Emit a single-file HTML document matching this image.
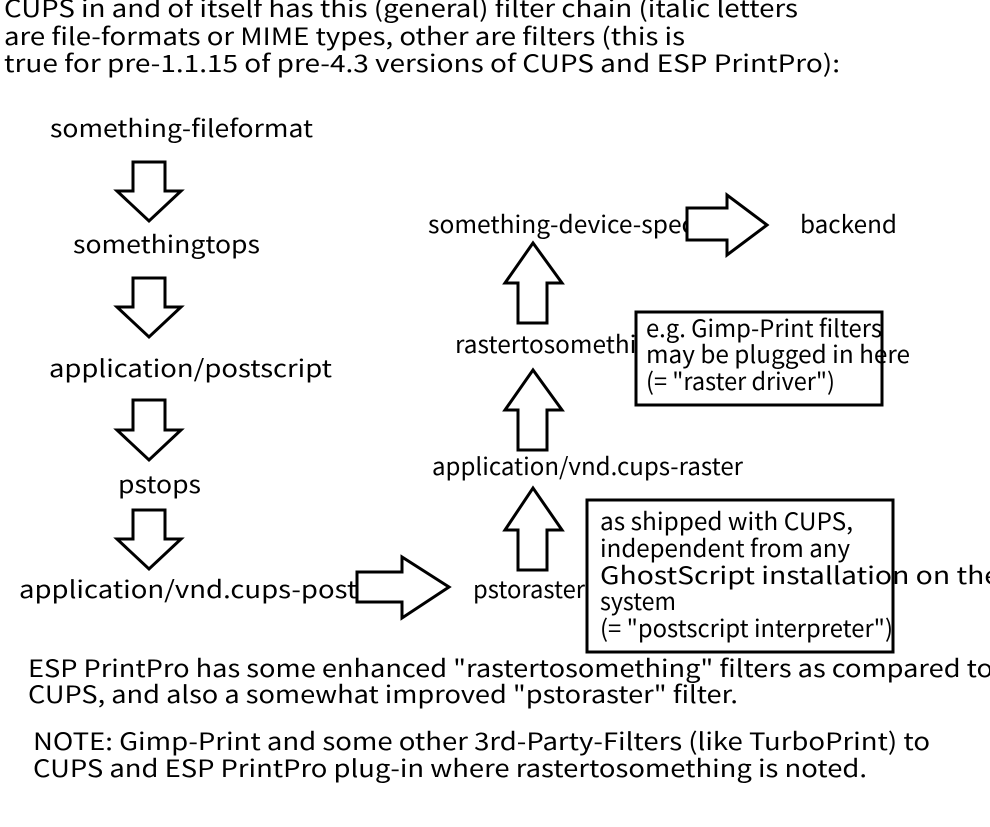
<!DOCTYPE html>
<html><head><meta charset="utf-8"><style>
html,body{margin:0;padding:0;background:#fff;}
svg{display:block;}
text{font-family:"Noto Sans CJK JP","Liberation Sans",sans-serif;font-size:24px;fill:#000;}
</style></head><body>
<svg width="990" height="827" viewBox="0 0 990 827" xmlns="http://www.w3.org/2000/svg">
<text x="4" y="17" textLength="794" lengthAdjust="spacingAndGlyphs">CUPS in and of itself has this (general) filter chain (italic letters</text>
<text x="4" y="45" textLength="681" lengthAdjust="spacingAndGlyphs">are file-formats or MIME types, other are filters (this is</text>
<text x="4" y="72" textLength="836" lengthAdjust="spacingAndGlyphs">true for pre-1.1.15 of pre-4.3 versions of CUPS and ESP PrintPro):</text>

<text x="50" y="137" textLength="263" lengthAdjust="spacingAndGlyphs">something-fileformat</text>
<text x="73" y="253" textLength="187" lengthAdjust="spacingAndGlyphs">somethingtops</text>
<text x="49" y="377" textLength="283" lengthAdjust="spacingAndGlyphs">application/postscript</text>
<text x="118" y="493" textLength="83" lengthAdjust="spacingAndGlyphs">pstops</text>
<text x="19" y="598" textLength="410" lengthAdjust="spacingAndGlyphs">application/vnd.cups-postscript</text>

<text x="473" y="598" textLength="112" lengthAdjust="spacingAndGlyphs">pstoraster</text>
<text x="432" y="475" textLength="311" lengthAdjust="spacingAndGlyphs">application/vnd.cups-raster</text>
<text x="455" y="353" textLength="210" lengthAdjust="spacingAndGlyphs">rastertosomething</text>
<text x="428" y="233" textLength="300" lengthAdjust="spacingAndGlyphs">something-device-specific</text>
<text x="800" y="233" textLength="97" lengthAdjust="spacingAndGlyphs">backend</text>

<g fill="#fff" stroke="#000" stroke-width="3">
<polygon points="133,162 165,162 165,191 181,191 149,221 117,191 133,191"/>
<polygon points="133,278 165,278 165,307 181,307 149,337 117,307 133,307"/>
<polygon points="133,400 165,400 165,430 181,430 149,460 117,430 133,430"/>
<polygon points="133,510 165,510 165,539 181,539 149,569 117,539 133,539"/>
<polygon points="357,572 402,572 402,557 449,587 402,618 402,602 357,602"/>
<polygon points="518,570 547,570 547,530 562,530 533,488 505,530 518,530"/>
<polygon points="518,450 547,450 547,410 562,410 533,370 505,410 518,410"/>
<polygon points="518,323 547,323 547,283 562,283 533,243 505,283 518,283"/>
<polygon points="687,208 727,208 727,195 767,225 727,255 727,240 687,240"/>
<rect x="636" y="312" width="246" height="93"/>
<rect x="587" y="500" width="306" height="152"/>
</g>

<text x="646" y="337" textLength="236" lengthAdjust="spacingAndGlyphs">e.g. Gimp-Print filters</text>
<text x="646" y="363" textLength="264" lengthAdjust="spacingAndGlyphs">may be plugged in here</text>
<text x="646" y="390" textLength="189" lengthAdjust="spacingAndGlyphs">(= "raster driver")</text>

<text x="600" y="530" textLength="253" lengthAdjust="spacingAndGlyphs">as shipped with CUPS,</text>
<text x="600" y="557" textLength="250" lengthAdjust="spacingAndGlyphs">independent from any</text>
<text x="600" y="584" textLength="400" lengthAdjust="spacingAndGlyphs">GhostScript installation on the</text>
<text x="600" y="610" textLength="76" lengthAdjust="spacingAndGlyphs">system</text>
<text x="600" y="637" textLength="293" lengthAdjust="spacingAndGlyphs">(= "postscript interpreter")</text>

<text x="28" y="677" textLength="965" lengthAdjust="spacingAndGlyphs">ESP PrintPro has some enhanced "rastertosomething" filters as compared to</text>
<text x="28" y="703" textLength="710" lengthAdjust="spacingAndGlyphs">CUPS, and also a somewhat improved "pstoraster" filter.</text>
<text x="33" y="750" textLength="897" lengthAdjust="spacingAndGlyphs">NOTE: Gimp-Print and some other 3rd-Party-Filters (like TurboPrint) to</text>
<text x="33" y="777" textLength="834" lengthAdjust="spacingAndGlyphs">CUPS and ESP PrintPro plug-in where rastertosomething is noted.</text>
</svg>
</body></html>
